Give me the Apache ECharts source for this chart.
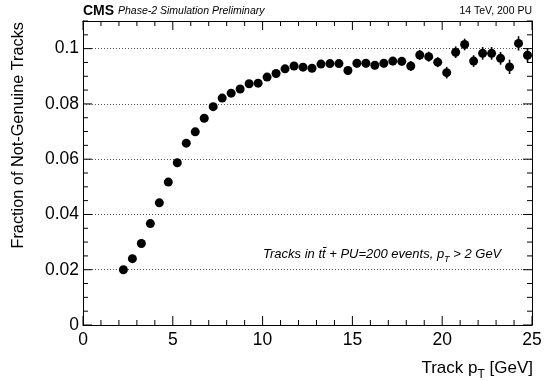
<!DOCTYPE html>
<html>
<head>
<meta charset="utf-8">
<script src="https://cdn.jsdelivr.net/npm/echarts@6/dist/echarts.min.js"></script>
<style>
    html, body { margin: 0; padding: 0; background: #fff; }
    #chart { width: 547px; height: 381px; }
</style>
</head>
<body>
<div id="chart"></div>
<script>
    // bin centres (GeV), fraction of fake tracks, stat. uncertainty
    var ptBins = [2.25, 2.75, 3.25, 3.75, 4.25, 4.75, 5.25, 5.75, 6.25, 6.75,
        7.25, 7.75, 8.25, 8.75, 9.25, 9.75, 10.25, 10.75, 11.25, 11.75,
        12.25, 12.75, 13.25, 13.75, 14.25, 14.75, 15.25, 15.75, 16.25, 16.75,
        17.25, 17.75, 18.25, 18.75, 19.25, 19.75, 20.25, 20.75, 21.25, 21.75,
        22.25, 22.75, 23.25, 23.75, 24.25, 24.75];
    var fakeFraction = [0.0200, 0.0240, 0.0295, 0.0367, 0.0442, 0.0517, 0.0587, 0.0658, 0.0699, 0.0748,
        0.0790, 0.0821, 0.0839, 0.0854, 0.0873, 0.0875, 0.0897, 0.0910, 0.0927, 0.0937,
        0.0933, 0.0929, 0.0944, 0.0946, 0.0946, 0.0921, 0.0947, 0.0947, 0.0940, 0.0947,
        0.0955, 0.0954, 0.0937, 0.0977, 0.0971, 0.0951, 0.0913, 0.0987, 0.1015, 0.0955,
        0.0983, 0.0983, 0.0965, 0.0934, 0.1019, 0.0976];
    var fakeError = [0.0004, 0.0004, 0.0004, 0.0004, 0.0004, 0.0004, 0.0004, 0.0007, 0.0007, 0.0007,
        0.0007, 0.0007, 0.0007, 0.0007, 0.0007, 0.0007, 0.0011, 0.0011, 0.0011, 0.0011,
        0.0011, 0.0011, 0.0011, 0.0011, 0.0011, 0.0011, 0.0015, 0.0015, 0.0015, 0.0015,
        0.0015, 0.0015, 0.0018, 0.0018, 0.0018, 0.0018, 0.0021, 0.0021, 0.0021, 0.0021,
        0.0023, 0.0023, 0.0023, 0.0026, 0.0026, 0.0026];
    var xTicks = [0, 5, 10, 15, 20, 25];
    var yTicks = [0, 0.02, 0.04, 0.06, 0.08, 0.1];
    var xMinorStep = 1;
    var yMinorStep = 0.005;
    var X_MAX = 25, Y_MAX = 0.11;

    var points = ptBins.map(function (x, i) { return [x, fakeFraction[i]]; });
    var bars = ptBins.map(function (x, i) { return [x, fakeFraction[i] - fakeError[i], fakeFraction[i] + fakeError[i]]; });

    // ROOT style frame ticks (inward, on all four sides)
    var xTickMarks = [], yTickMarks = [];
    for (var i = 0; i * xMinorStep <= X_MAX + 1e-9; i++) {
        var xv = +(i * xMinorStep).toFixed(3);
        xTickMarks.push([xv, 0, xTicks.indexOf(xv) >= 0 ? 9 : 5]);
    }
    for (var j = 0; j * yMinorStep <= Y_MAX + 1e-9; j++) {
        var yv = +(j * yMinorStep).toFixed(3);
        yTickMarks.push([0, yv, yTicks.indexOf(yv) >= 0 ? 9 : 5]);
    }

    var FONT = 'Liberation Sans, Arial, Helvetica, sans-serif';
    var black = '#000';

    function frameLine(x1, y1, x2, y2) {
        return { type: 'line', shape: { x1: x1, y1: y1, x2: x2, y2: y2 }, style: { stroke: black, lineWidth: 1 } };
    }

    var myChart = echarts.init(document.getElementById('chart'), null, { renderer: 'canvas' });

    var option = {
        backgroundColor: '#fff',
        animation: false,
        grid: { left: 83, right: 15, top: 21, bottom: 56, containLabel: false },
        xAxis: [
            {
                type: 'value', position: 'bottom', min: 0, max: X_MAX, interval: 5,
                axisLine: { show: true, onZero: false, lineStyle: { color: black, width: 1 } },
                axisTick: { show: false },
                axisLabel: { color: black, fontSize: 17.5, fontFamily: FONT, margin: 6 },
                splitLine: { show: false }
            },
            {
                type: 'value', position: 'top', min: 0, max: X_MAX, interval: 5,
                axisLine: { show: true, onZero: false, lineStyle: { color: black, width: 1 } },
                axisTick: { show: false }, axisLabel: { show: false }, splitLine: { show: false }
            }
        ],
        yAxis: [
            {
                type: 'value', position: 'left', min: 0, max: Y_MAX, interval: 0.02,
                axisLine: { show: true, onZero: false, lineStyle: { color: black, width: 1 } },
                axisTick: { show: false },
                axisLabel: {
                    color: black, fontSize: 17.5, fontFamily: FONT, margin: 4, showMaxLabel: false,
                    formatter: function (v) { return yTicks.indexOf(+v.toFixed(3)) >= 0 ? String(+v.toFixed(3)) : ''; }
                },
                splitLine: { show: true, lineStyle: { color: '#555', type: [1, 2], width: 1 } }
            },
            {
                type: 'value', position: 'right', min: 0, max: Y_MAX, interval: 0.02,
                axisLine: { show: true, onZero: false, lineStyle: { color: black, width: 1 } },
                axisTick: { show: false }, axisLabel: { show: false }, splitLine: { show: false }
            }
        ],
        graphic: [
            { type: 'text', left: 83, top: 4, style: { text: 'CMS', font: 'bold 14px ' + FONT, fill: black } },
            { type: 'text', left: 118, top: 6, style: { text: 'Phase-2 Simulation Preliminary', font: 'italic 10.5px ' + FONT, fill: black } },
            { type: 'text', right: 15, top: 6, style: { text: '14 TeV, 200 PU', font: '10.5px ' + FONT, fill: black } },
            {
                type: 'text', x: 19, y: 22, rotation: Math.PI / 2,
                style: { text: 'Fraction of Not-Genuine Tracks', font: '16.3px ' + FONT, fill: black, align: 'right', verticalAlign: 'middle' }
            },
            {
                type: 'text', x: 533, y: 355,
                style: {
                    text: '{a|Track p}{s|T}{a| [GeV]}', align: 'right', verticalAlign: 'top',
                    rich: {
                        a: { fontSize: 17, fontFamily: FONT, fill: black, lineHeight: 26 },
                        s: { fontSize: 12, fontFamily: FONT, fill: black, lineHeight: 2, verticalAlign: 'bottom' }
                    }
                }
            },
            {
                type: 'text', x: 263, y: 244,
                style: {
                    text: '{a|Tracks in tt\u0304 + PU=200 events, p}{s|T}{a| > 2 GeV}', align: 'left', verticalAlign: 'top',
                    rich: {
                        a: { fontSize: 13, fontFamily: FONT, fontStyle: 'italic', fill: black, lineHeight: 20 },
                        s: { fontSize: 9, fontFamily: FONT, fontStyle: 'italic', fill: black, lineHeight: 2, verticalAlign: 'bottom' }
                    }
                }
            }
        ],
        series: [
            {
                name: 'xticks',
                type: 'custom',
                silent: true,
                data: xTickMarks,
                z: 5,
                renderItem: function (params, api) {
                    var len = api.value(2);
                    var b = api.coord([api.value(0), 0]);
                    var t = api.coord([api.value(0), Y_MAX]);
                    return { type: 'group', children: [
                        frameLine(b[0], b[1], b[0], b[1] - len),
                        frameLine(t[0], t[1], t[0], t[1] + len)
                    ] };
                }
            },
            {
                name: 'yticks',
                type: 'custom',
                silent: true,
                data: yTickMarks,
                z: 5,
                renderItem: function (params, api) {
                    var len = api.value(2);
                    var l = api.coord([0, api.value(1)]);
                    var r = api.coord([X_MAX, api.value(1)]);
                    return { type: 'group', children: [
                        frameLine(l[0], l[1], l[0] + len, l[1]),
                        frameLine(r[0], r[1], r[0] - len, r[1])
                    ] };
                }
            },
            {
                name: 'errors',
                type: 'custom',
                data: bars,
                z: 3,
                renderItem: function (params, api) {
                    var lo = api.coord([api.value(0), api.value(1)]);
                    var hi = api.coord([api.value(0), api.value(2)]);
                    return {
                        type: 'line',
                        shape: { x1: lo[0], y1: lo[1], x2: hi[0], y2: hi[1] },
                        style: { stroke: black, lineWidth: 1.6 }
                    };
                }
            },
            {
                name: 'fake',
                type: 'scatter',
                data: points,
                symbol: 'circle',
                symbolSize: 9,
                z: 4,
                itemStyle: { color: black, opacity: 1 }
            }
        ]
    };

    myChart.setOption(option);
</script>
</body>
</html>
